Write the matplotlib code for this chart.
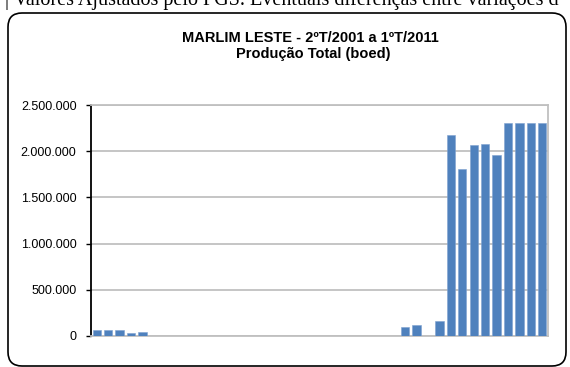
import matplotlib
matplotlib.use("Agg")
import matplotlib.pyplot as plt
from matplotlib.patches import FancyBboxPatch
from matplotlib.ticker import FuncFormatter

# Quarterly production, 2Q2001 .. 1Q2011 (boed)
quarters = [f"{q}T/{y}" for y in range(2001, 2012) for q in range(1, 5)][1:41]
production = [
    62000, 62000, 60000, 33000, 48000,
    0, 0, 0, 0, 0, 0, 0, 0, 0, 0, 0, 0, 0, 0, 0, 0, 0, 0, 0, 0, 0, 0,
    101000, 119000, 0, 162000,
    2170000, 1810000, 2065000, 2083000, 1960000,
    2300000, 2300000, 2300000, 2300000,
]
y_ticks = [0, 500000, 1000000, 1500000, 2000000, 2500000]

title_1 = "MARLIM LESTE - 2ºT/2001 a 1ºT/2011"
title_2 = "Produção Total (boed)"
page_text = "| Valores Ajustados pelo PGS. Eventuais diferenças entre variações d"

BAR_COLOR = "#4F81BD"
GRID_COLOR = "#C0C0C0"


def thousands(value, _pos):
    return f"{int(value):,}".replace(",", ".")


def draw_chart():
    fig = plt.figure(figsize=(5.70, 3.67), dpi=100)

    # page background with the rounded chart frame, in pixel units
    bg = fig.add_axes([0, 0, 1, 1])
    bg.set_xlim(0, 570)
    bg.set_ylim(367, 0)
    bg.axis("off")
    frame = FancyBboxPatch((8, 13), 558, 353,
                           boxstyle="round,pad=0,rounding_size=14",
                           facecolor="white", edgecolor="black", linewidth=1.2)
    bg.add_patch(frame)
    # last line of the page text above the chart, cut by the page edge
    bg.text(5, 5, page_text, family="Liberation Serif", fontsize=14.5,
            va="baseline", ha="left", color="black")
    bg.text(310, 41.5, title_1, family="Liberation Sans", fontsize=10.5,
            weight="bold", ha="center", va="baseline")
    bg.text(313, 58, title_2, family="Liberation Sans", fontsize=10.5,
            weight="bold", ha="center", va="baseline")

    ax = fig.add_axes([91 / 570, 1 - 336 / 367, 457 / 570, 231 / 367])
    x = list(range(len(production)))
    ax.bar(x, production, width=0.72, color=BAR_COLOR,
           edgecolor="#7FA2D0", linewidth=0.4, zorder=3)

    ax.set_xlim(-0.5, len(production) - 0.5)
    ax.set_ylim(0, 2500000)
    ax.set_yticks(y_ticks)
    ax.yaxis.set_major_formatter(FuncFormatter(thousands))
    ax.set_xticks([])
    ax.grid(axis="y", color=GRID_COLOR, linewidth=1.3, zorder=0)

    for side in ("top", "right", "bottom"):
        ax.spines[side].set_color(GRID_COLOR)
        ax.spines[side].set_linewidth(1.3)
    ax.spines["left"].set_color("black")
    ax.spines["left"].set_linewidth(1.3)
    ax.tick_params(axis="y", direction="out", length=3.4, width=1,
                   pad=7, labelsize=9, colors="black")
    for label in ax.get_yticklabels():
        label.set_family("Liberation Sans")

    fig.savefig("out.png", dpi=100)
    plt.close(fig)


if __name__ == "__main__":
    draw_chart()
